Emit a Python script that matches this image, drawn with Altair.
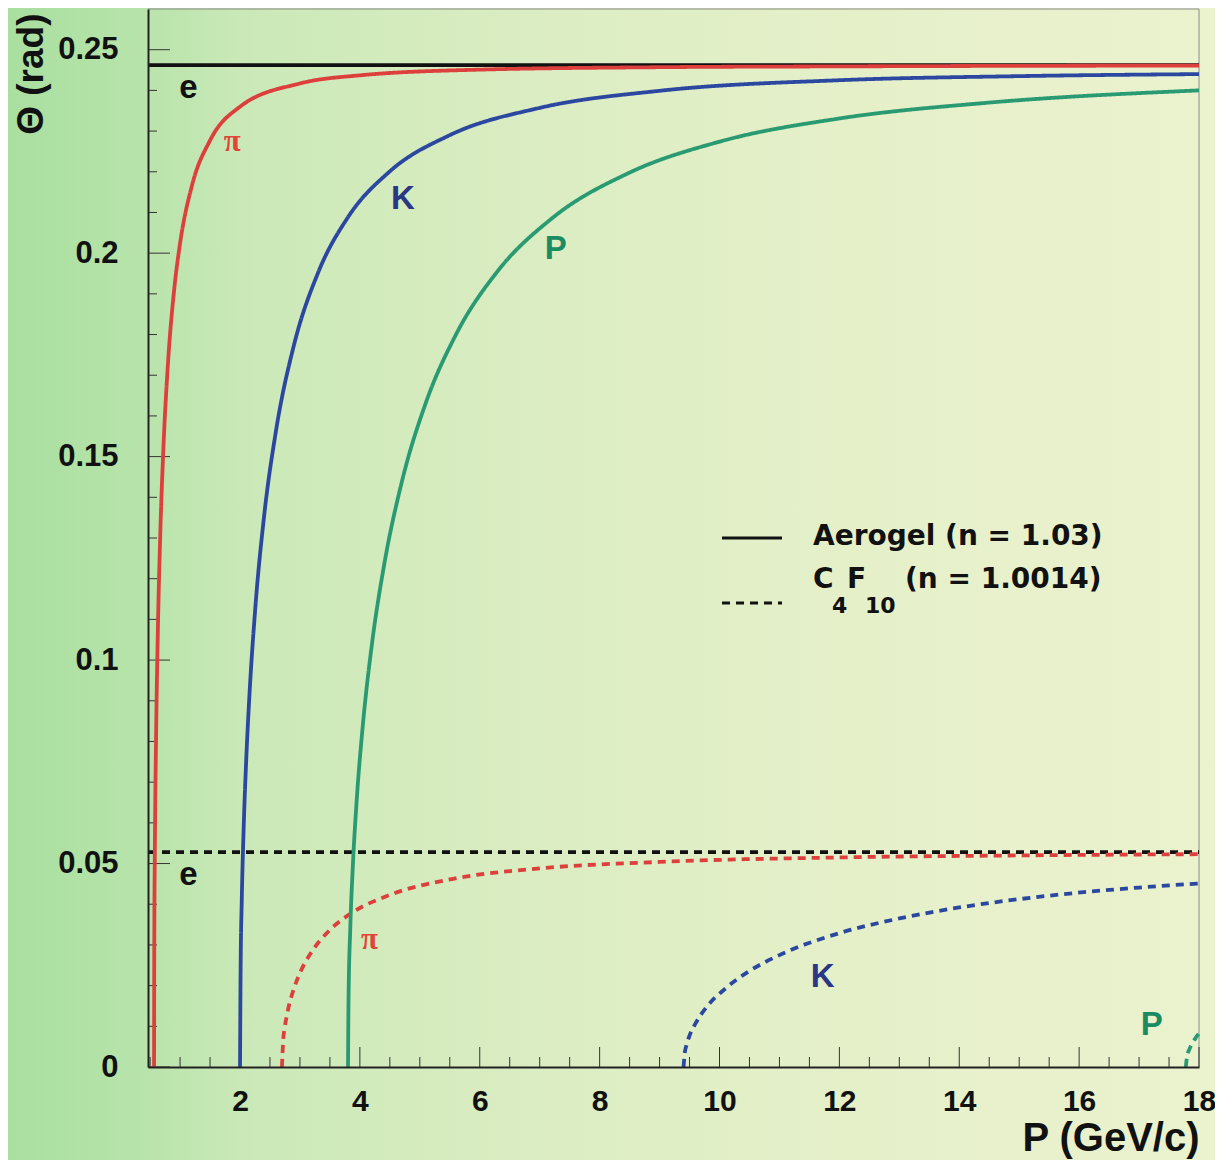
import altair as alt
import pandas as pd

# ---------------- data ----------------
# Aerogel (n = 1.03), solid lines
P_E_AERO = [0.465, 18.0]
TH_E_AERO = [0.2462, 0.2462]
P_PI_AERO = [0.566, 0.57, 0.58, 0.60, 0.63, 0.67, 0.72, 0.80, 0.90, 1.0, 1.2, 1.5, 2.0, 3.0, 4.0, 6.0, 9.0, 12.0, 18.0]
TH_PI_AERO = [0.0, 0.0304, 0.0541, 0.0815, 0.1076, 0.1311, 0.1514, 0.1733, 0.1908, 0.2024, 0.2167, 0.2277, 0.2360,
              0.2417, 0.2437, 0.2451, 0.2457, 0.2459, 0.2461]
P_K_AERO = [2.0005, 2.01, 2.03, 2.06, 2.1, 2.15, 2.25, 2.4, 2.6, 2.9, 3.3, 3.8, 4.5, 5.5, 7.0, 9.0, 12.0, 15.0, 18.0]
TH_K_AERO = [0.0, 0.0237, 0.0414, 0.0582, 0.0742, 0.0894, 0.1118, 0.1351, 0.1563, 0.1774, 0.1951, 0.2088, 0.2201,
             0.2290, 0.2357, 0.2399, 0.2425, 0.2435, 0.2440]
P_P_AERO = [3.802, 3.81, 3.84, 3.88, 3.95, 4.05, 4.2, 4.4, 4.7, 5.1, 5.6, 6.3, 7.2, 8.5, 10.0, 12.0, 14.5, 18.0]
TH_P_AERO = [0.0, 0.0157, 0.0342, 0.0486, 0.0662, 0.0841, 0.1038, 0.1230, 0.1438, 0.1632, 0.1799, 0.1956, 0.2085,
             0.2198, 0.2274, 0.2331, 0.2370, 0.2400]

# C4F10 (n = 1.0014), dashed lines
P_E_GAS = [0.465, 18.0]
TH_E_GAS = [0.0528, 0.0528]
P_PI_GAS = [2.70, 2.72, 2.75, 2.8, 2.9, 3.0, 3.2, 3.5, 3.9, 4.5, 5.5, 7.0, 9.0, 12.0, 15.0, 18.0]
TH_PI_GAS = [0.0, 0.0064, 0.0100, 0.0140, 0.0193, 0.0231, 0.0284, 0.0337, 0.0382, 0.0423, 0.0461, 0.0488, 0.0504,
             0.0515, 0.0520, 0.0523]
P_K_GAS = [9.40, 9.42, 9.45, 9.5, 9.6, 9.8, 10.1, 10.5, 11.0, 12.0, 13.0, 14.0, 15.5, 17.0, 18.0]
TH_K_GAS = [0.0, 0.0034, 0.0054, 0.0077, 0.0107, 0.0150, 0.0193, 0.0236, 0.0275, 0.0329, 0.0365, 0.0392, 0.0421,
            0.0441, 0.0451]
P_P_GAS = [17.78, 17.8, 17.85, 17.9, 17.95, 18.0]
TH_P_GAS = [0.0, 0.0025, 0.0047, 0.0061, 0.0073, 0.0082]

# curve labels
LAB_TEXT = ["e", "K", "P", "e", "K", "P"]
LAB_P = [1.14, 4.72, 7.27, 1.14, 11.72, 17.21]
LAB_TH = [0.2407, 0.2132, 0.2011, 0.0472, 0.0221, 0.0103]
LAB_COLOR = ["#111111", "#2b3784", "#1b8c62", "#111111", "#2b3784", "#1b8c62"]
PI_P = [1.87, 4.16]
PI_TH = [0.2274, 0.0312]

X_TICKS_MAJOR = [2, 4, 6, 8, 10, 12, 14, 16, 18]
X_TICKS_MINOR = [0.5, 1.0, 1.5, 2.5, 3.0, 3.5, 4.5, 5.0, 5.5, 6.5, 7.0, 7.5, 8.5, 9.0, 9.5, 10.5, 11.0, 11.5,
                 12.5, 13.0, 13.5, 14.5, 15.0, 15.5, 16.5, 17.0, 17.5]
Y_TICKS_MAJOR = [0, 0.05, 0.1, 0.15, 0.2, 0.25]
Y_TICKS_MINOR = [0.01, 0.02, 0.03, 0.04, 0.06, 0.07, 0.08, 0.09, 0.11, 0.12, 0.13, 0.14,
                 0.16, 0.17, 0.18, 0.19, 0.21, 0.22, 0.23, 0.24]

# ---------------- chart ----------------
W, H = 1051, 1058
FONT = "Liberation Sans"
LFONT = "DejaVu Sans"
RED, BLUE, GREEN = "#dd3f3c", "#2b479f", "#2a9a72"


def series(ps, ths, particle, medium):
    return pd.DataFrame({"p": ps, "theta": ths, "particle": particle, "medium": medium,
                         "series": particle + "_" + medium})


xs = alt.Scale(domain=[0.465, 18], nice=False, zero=False)
ys = alt.Scale(domain=[0, 0.26], nice=False, zero=False)

xaxis = alt.Axis(values=X_TICKS_MAJOR, title="P (GeV/c)", grid=False, ticks=False, tickSize=0,
                 labelFont=FONT, labelFontWeight="bold", labelFontSize=30, labelColor="#111111",
                 labelPadding=19, labelFlush=False, labelOverlap=False,
                 domainColor="#222222", domainWidth=2,
                 titleFont=FONT, titleFontWeight="bold", titleFontSize=40, titleColor="#111111",
                 titleAnchor="end", titleAlign="right", titleBaseline="alphabetic",
                 titleX=W, titleY=83, zindex=2)
yaxis = alt.Axis(values=Y_TICKS_MAJOR, format="~g", title="Θ (rad)", grid=False, ticks=False, tickSize=0,
                 labelFont=FONT, labelFontWeight="bold", labelFontSize=31, labelColor="#111111",
                 labelPadding=30, labelFlush=False, labelOverlap=False,
                 domainColor="#222222", domainWidth=2,
                 titleFont=FONT, titleFontWeight="bold", titleFontSize=37, titleColor="#111111",
                 titleAngle=270, titleAlign="right", titleBaseline="alphabetic",
                 titleX=-106, titleY=4, zindex=2)


def X(field="p"):
    return alt.X(f"{field}:Q", scale=xs, axis=xaxis)


def Y(field="theta"):
    return alt.Y(f"{field}:Q", scale=ys, axis=yaxis)


one = pd.DataFrame({"a": [0]})

gradient = {"gradient": "linear", "x1": 0, "x2": 1, "y1": 0, "y2": 0,
            "stops": [{"offset": 0.0, "color": "#a9dfa0"},
                      {"offset": 0.10, "color": "#b6e3a9"},
                      {"offset": 0.20, "color": "#cbe9b8"},
                      {"offset": 0.45, "color": "#dcedc3"},
                      {"offset": 0.70, "color": "#e5f0c9"},
                      {"offset": 1.0, "color": "#ebf2ce"}]}
bg = alt.Chart(one).mark_rect(fill=gradient).encode(
    x=alt.value(-140), x2=alt.value(W + 16), y=alt.value(-1), y2=alt.value(H + 93))

frame_top = alt.Chart(one).mark_rule(color="#8a8a8a", strokeWidth=1).encode(
    x=alt.value(0), x2=alt.value(W), y=alt.value(0))
frame_right = alt.Chart(one).mark_rule(color="#8a8a8a", strokeWidth=1).encode(
    x=alt.value(W), y=alt.value(0), y2=alt.value(H))

xt_major = alt.Chart(pd.DataFrame({"p": X_TICKS_MAJOR})).mark_rule(color="#333333", strokeWidth=1).encode(
    x=X(), y=alt.value(H), y2=alt.value(H - 20))
xt_minor = alt.Chart(pd.DataFrame({"p": X_TICKS_MINOR})).mark_rule(color="#333333", strokeWidth=1).encode(
    x=X(), y=alt.value(H), y2=alt.value(H - 10))
yt_major = alt.Chart(pd.DataFrame({"theta": Y_TICKS_MAJOR})).mark_rule(color="#333333", strokeWidth=1).encode(
    y=Y(), x=alt.value(0), x2=alt.value(22))
yt_minor = alt.Chart(pd.DataFrame({"theta": Y_TICKS_MINOR})).mark_rule(color="#333333", strokeWidth=1).encode(
    y=Y(), x=alt.value(0), x2=alt.value(9))


def curve_layer(dfs, color):
    df = pd.concat(dfs, ignore_index=True)
    return alt.Chart(df).mark_line(color=color, strokeWidth=3.8, interpolate="monotone").encode(
        x=X(), y=Y(), detail="series:N",
        strokeDash=alt.StrokeDash("medium:N", scale=alt.Scale(domain=["aerogel", "c4f10"],
                                                             range=[[1, 0], [8, 6]]), legend=None))


e_lines = curve_layer([series(P_E_AERO, TH_E_AERO, "e", "aerogel"),
                       series(P_E_GAS, TH_E_GAS, "e", "c4f10")], "#111111")
pi_lines = curve_layer([series(P_PI_AERO, TH_PI_AERO, "pi", "aerogel"),
                        series(P_PI_GAS, TH_PI_GAS, "pi", "c4f10")], RED)
k_lines = curve_layer([series(P_K_AERO, TH_K_AERO, "K", "aerogel"),
                       series(P_K_GAS, TH_K_GAS, "K", "c4f10")], BLUE)
p_lines = curve_layer([series(P_P_AERO, TH_P_AERO, "p", "aerogel"),
                       series(P_P_GAS, TH_P_GAS, "p", "c4f10")], GREEN)

labels = alt.Chart(pd.DataFrame({"p": LAB_P, "theta": LAB_TH, "t": LAB_TEXT, "c": LAB_COLOR})).mark_text(
    font=FONT, fontWeight="bold", fontSize=33, align="center", baseline="middle").encode(
    x=X(), y=Y(), text="t:N", color=alt.Color("c:N", scale=None))
pi_labels = alt.Chart(pd.DataFrame({"p": PI_P, "theta": PI_TH, "t": ["π", "π"]})).mark_text(
    font="Liberation Serif", fontWeight="bold", fontSize=31, color="#e0453a",
    align="center", baseline="middle").encode(x=X(), y=Y(), text="t:N")

# legend (drawn by hand, as in the figure)
leg_solid = alt.Chart(one).mark_rule(color="#111111", strokeWidth=3).encode(
    x=alt.value(574), x2=alt.value(634), y=alt.value(529))
leg_dash = alt.Chart(one).mark_rule(color="#111111", strokeWidth=3, strokeDash=[8, 6]).encode(
    x=alt.value(574), x2=alt.value(634), y=alt.value(594))


def ltext(txt, x, y, size=28):
    return alt.Chart(one).mark_text(text=txt, font=LFONT, fontWeight="bold", fontSize=size, color="#111111",
                                    align="left", baseline="alphabetic").encode(x=alt.value(x), y=alt.value(y))


legend = [ltext("Aerogel (n = 1.03)", 665, 536),
          ltext("C", 665, 579), ltext("4", 684, 604, 22), ltext("F", 699, 579),
          ltext("10", 717, 604, 22), ltext("(n = 1.0014)", 757, 579)]

chart = alt.layer(bg, frame_top, frame_right, xt_major, xt_minor, yt_major, yt_minor,
                  e_lines, pi_lines, k_lines, p_lines, labels, pi_labels, leg_solid, leg_dash, *legend
                  ).properties(
    width=W, height=H,
    padding={"left": 140, "top": 1, "right": 16, "bottom": 93},
    autosize=alt.AutoSizeParams(type="none"),
).configure_view(stroke=None).configure(background="#ecf2cf")

chart.save("out.html", embed_options={"renderer": "svg", "actions": False})
